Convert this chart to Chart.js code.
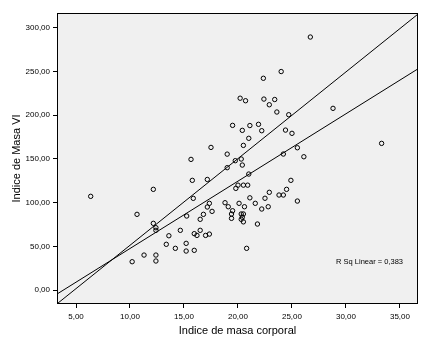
<!DOCTYPE html>
<html lang="es">
<head>
    <meta charset="UTF-8">
    <title>Indice de Masa VI vs Indice de masa corporal</title>
    <script src="https://cdn.jsdelivr.net/npm/chart.js"></script>
    <style>
        body { margin: 0; background: #fff; }
    </style>
</head>
<body>
    <canvas id="chart" width="438" height="353"></canvas>
    <script>
        // valores (IMC, Indice de Masa VI)
        const imc = [
            26.7, 24.0, 22.35, 20.2, 20.7, 22.4, 22.9, 23.4, 23.6, 24.7,
            19.5, 20.4, 21.1, 21.9, 22.2, 24.4, 25.0, 21.0, 20.5, 19.0,
            19.75, 20.3, 20.4, 19.0, 21.0, 25.5, 24.2, 26.1, 28.8, 33.3,
            24.9, 15.65, 17.5, 15.77, 17.16, 6.36, 12.16, 10.65, 15.86, 17.35,
            17.16, 17.6, 16.8, 16.5, 15.25, 16.5, 15.95, 16.2, 17.0, 17.35,
            12.16, 12.4, 12.4, 13.6, 14.66, 13.36, 14.2, 15.2, 15.2, 15.95,
            11.3, 12.4, 10.2, 12.4, 20.8, 18.8, 19.1, 19.5, 19.4, 19.4,
            20.1, 20.6, 20.3, 20.5, 20.3, 20.5, 21.1, 21.6, 21.8, 22.2,
            22.5, 22.8, 22.9, 23.8, 24.2, 24.5, 25.5, 20.0, 20.5, 20.9,
            19.8, 20.4
        ];
        const masaVI = [
            289.5, 250, 242.3, 219.5, 216.6, 218.5, 212, 218, 203.7, 200.6,
            188.4, 182.7, 188.2, 189.6, 182.3, 183, 179.3, 173.6, 165.5, 155.5,
            148, 149.9, 143, 140, 132.7, 162.8, 155.6, 152.5, 207.9, 167.8,
            125.5, 149.5, 163.2, 125.5, 126.5, 107.2, 115.2, 86.6, 104.9, 99.2,
            95, 90, 86.6, 80.9, 84.7, 68.3, 64.5, 62.5, 62.5, 64,
            76.3, 71.3, 68.3, 62.1, 68.3, 52.3, 47.7, 53.4, 44.6, 45.4,
            40, 40, 32.4, 33.2, 47.7, 99.9, 95.3, 90.7, 87, 82,
            99.2, 95.3, 87, 87, 80.9, 78, 105.5, 99.2, 75.5, 92.7,
            105, 95.3, 111.8, 108.7, 108.7, 115.2, 101.8, 120, 120, 120,
            116.3, 83.3
        ];

        const xTicks = [5, 10, 15, 20, 25, 30, 35];
        const yTicks = [0, 50, 100, 150, 200, 250, 300];
        const xRange = [3.24, 36.67];
        const yRange = [-16, 317];

        // rectas [ordenada, pendiente]
        const ajusteLineal = [-29.6, 7.71];
        const rectaSuperior = [-48, 9.92];
        const rSqTexto = 'R Sq Linear = 0,383';

        const fmt = v => v.toFixed(2).replace('.', ',');
        const recta = ([a, b]) => xRange.map(x => ({ x: x, y: a + b * x }));
        const tickFont = { family: 'Liberation Sans, Arial, sans-serif', size: 8 };
        const titleFont = { family: 'Liberation Sans, Arial, sans-serif', size: 11 };

        // fondo gris, marco negro y texto del R cuadrado
        const marco = {
            id: 'marco',
            beforeDraw(chart) {
                const { ctx, chartArea: a } = chart;
                ctx.save();
                ctx.fillStyle = '#f0f0f0';
                ctx.fillRect(a.left, a.top, a.width, a.height);
                ctx.restore();
            },
            afterDraw(chart) {
                const { ctx, chartArea: a } = chart;
                ctx.save();
                ctx.strokeStyle = '#000';
                ctx.lineWidth = 1;
                ctx.strokeRect(a.left + 0.5, a.top + 0.5, a.width - 1, a.height - 1);
                ctx.fillStyle = '#000';
                ctx.font = '7.5px "Liberation Sans", Arial, sans-serif';
                ctx.textAlign = 'right';
                ctx.textBaseline = 'middle';
                ctx.fillText(rSqTexto, a.right - 15, a.bottom - 42);
                ctx.restore();
            }
        };

        new Chart(document.getElementById('chart'), {
            type: 'scatter',
            data: {
                datasets: [{
                    data: imc.map((x, i) => ({ x: x, y: masaVI[i] })),
                    pointStyle: 'circle',
                    pointRadius: 2.2,
                    borderWidth: 1,
                    borderColor: '#000',
                    backgroundColor: 'transparent'
                }, {
                    type: 'line',
                    data: recta(ajusteLineal),
                    borderColor: '#000',
                    borderWidth: 1,
                    pointRadius: 0,
                    fill: false
                }, {
                    type: 'line',
                    data: recta(rectaSuperior),
                    borderColor: '#000',
                    borderWidth: 1,
                    pointRadius: 0,
                    fill: false
                }]
            },
            options: {
                responsive: false,
                animation: false,
                layout: { padding: { top: 13, right: 20, left: 0, bottom: 0 } },
                plugins: {
                    legend: { display: false },
                    tooltip: { enabled: false }
                },
                scales: {
                    x: {
                        type: 'linear',
                        position: 'bottom',
                        min: xRange[0],
                        max: xRange[1],
                        afterBuildTicks: s => { s.ticks = xTicks.map(v => ({ value: v })); },
                        afterFit: s => { s.height = 49; },
                        ticks: { callback: fmt, font: tickFont, color: '#000', padding: 4, maxRotation: 0, autoSkip: false },
                        grid: { drawOnChartArea: false, drawTicks: true, tickLength: 4, color: '#000' },
                        border: { display: false },
                        title: { display: true, text: 'Indice de masa corporal', font: titleFont, color: '#000', padding: { top: 0, bottom: 15 } }
                    },
                    y: {
                        type: 'linear',
                        min: yRange[0],
                        max: yRange[1],
                        afterBuildTicks: s => { s.ticks = yTicks.map(v => ({ value: v })); },
                        afterFit: s => { s.width = 57; },
                        ticks: { callback: fmt, font: tickFont, color: '#000', padding: 3, autoSkip: false },
                        grid: { drawOnChartArea: false, drawTicks: true, tickLength: 4, color: '#000' },
                        border: { display: false },
                        title: { display: true, text: 'Indice de Masa VI', font: titleFont, color: '#000', padding: { top: 10, bottom: 0 } }
                    }
                }
            },
            plugins: [marco]
        });
    </script>
</body>
</html>
